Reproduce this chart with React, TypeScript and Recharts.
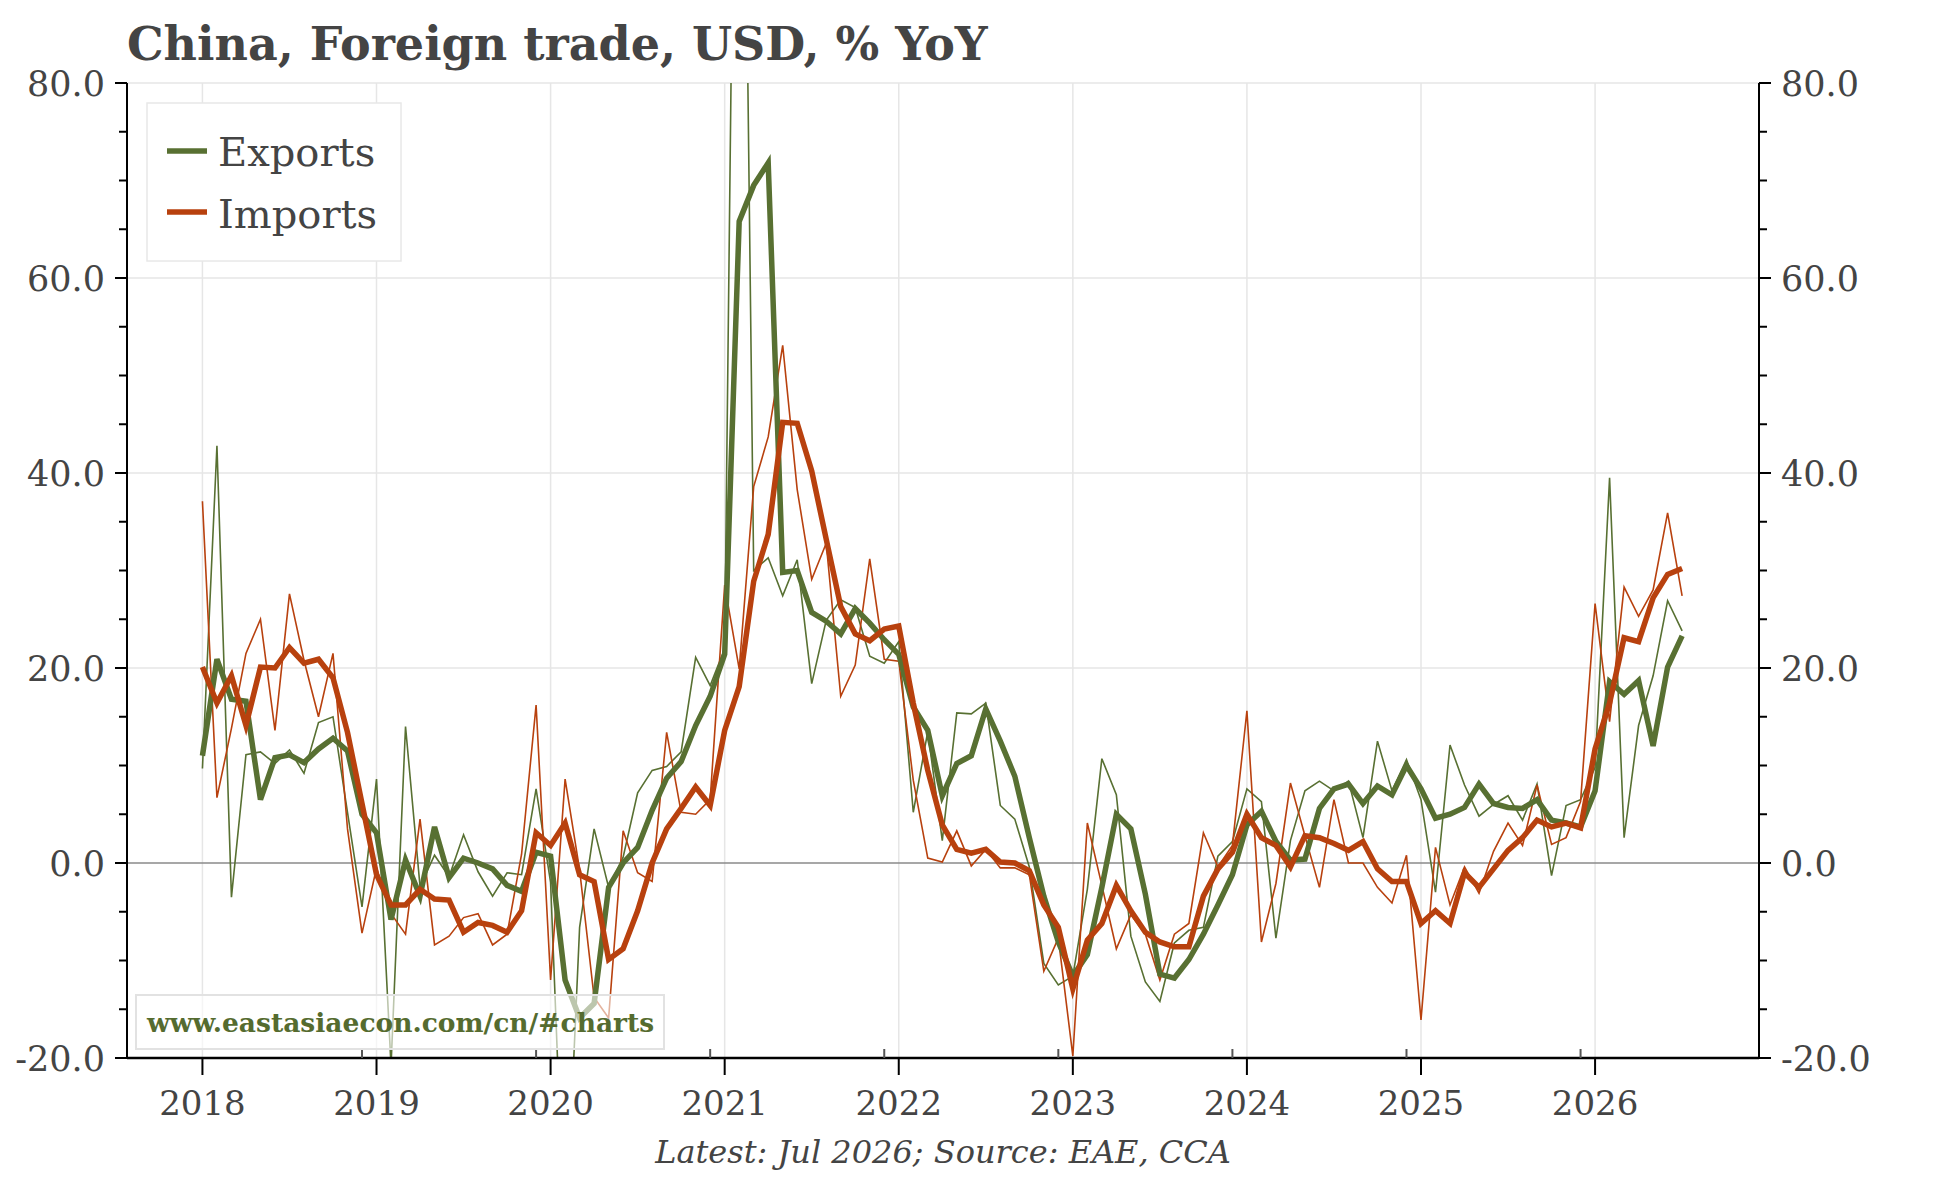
import { CartesianGrid, Line, LineChart, ReferenceLine, XAxis, YAxis } from "recharts";

// Monthly YoY %, Jan 2018 .. Jul 2026 (thin lines) and their 3-month averages (thick lines)
const exportsYoY = [
  9.7, 42.8, -3.5, 11.1, 11.4, 10.2, 11.6, 9.2, 14.4, 15.0, 5.2, -4.5,
  8.6, -20.8, 14.0, -2.4, 0.8, -1.4, 2.9, -0.9, -3.4, -1.0, -1.2, 7.6,
  -2.0, -40.0, -6.6, 3.5, -2.5, 0.6, 7.2, 9.5, 9.9, 11.4, 21.1, 18.2,
  22.0, 154.7, 30.0, 31.3, 27.4, 31.1, 18.4, 24.9, 27.0, 26.2, 21.2, 20.5,
  22.7, 5.2, 13.5, 2.3, 15.4, 15.3, 16.4, 5.9, 4.5, -0.4, -10.3, -12.5,
  -11.6, -2.7, 10.7, 7.0, -7.5, -12.2, -14.2, -8.2, -6.9, -6.6, 0.7, 2.2,
  7.6, 6.3, -7.7, 2.3, 7.4, 8.4, 7.4, 8.4, 2.6, 12.5, 7.4, 10.6,
  6.5, -3.0, 12.1, 8.0, 4.8, 6.0, 6.9, 4.4, 8.1, -1.3, 5.9, 6.5,
  9.8, 39.5, 2.6, 14.1, 19.2, 26.9, 23.8,
];
const exports3m = [
  11.0, 20.9, 16.8, 16.6, 6.5, 10.8, 11.1, 10.3, 11.7, 12.8, 11.5, 5.0,
  3.1, -5.8, 0.3, -3.4, 3.7, -1.5, 0.5, 0.0, -0.6, -2.3, -2.9, 1.1,
  0.7, -12.0, -15.9, -14.4, -2.5, 0.0, 1.6, 5.4, 8.7, 10.4, 14.1, 17.1,
  21.4, 65.8, 69.5, 71.8, 29.8, 30.0, 25.7, 24.8, 23.5, 26.1, 24.6, 22.9,
  21.4, 16.0, 13.6, 6.9, 10.2, 11.0, 15.8, 12.5, 8.9, 2.6, -3.4, -8.1,
  -11.6, -9.4, -2.5, 5.0, 3.5, -3.2, -11.4, -11.8, -9.9, -7.3, -4.3, -1.2,
  3.9, 5.3, 2.2, 0.3, 0.4, 5.6, 7.6, 8.1, 6.1, 7.9, 7.0, 10.0,
  7.6, 4.6, 5.0, 5.7, 8.1, 6.1, 5.7, 5.6, 6.5, 4.4, 4.1, 3.7,
  7.4, 18.6, 17.3, 18.7, 12.0, 20.1, 23.3,
];
const importsYoY = [
  37.1, 6.7, 13.8, 21.5, 25.0, 13.6, 27.6, 20.8, 15.0, 21.5, 3.5, -7.2,
  -0.5, -5.2, -7.3, 4.5, -8.4, -7.5, -5.6, -5.2, -8.4, -7.3, 0.9, 16.2,
  -12.0, 8.6, -0.7, -13.8, -15.9, 3.3, -1.0, -1.9, 13.4, 5.2, 5.0, 6.5,
  28.5, 19.9, 38.6, 43.7, 53.1, 38.3, 29.1, 32.8, 17.1, 20.3, 31.2, 20.9,
  20.7, 8.5, 0.5, 0.1, 3.3, -0.3, 1.4, -0.5, -0.5, -1.2, -11.1, -7.7,
  -19.8, 4.1, -2.3, -8.8, -5.3, -7.3, -12.0, -7.3, -6.2, 3.1, -0.4, 1.8,
  15.6, -8.1, -2.1, 8.2, 2.8, -2.5, 6.5, 0.0, 0.0, -2.5, -4.1, 0.8,
  -16.1, 1.6, -4.3, -0.4, -3.1, 1.2, 4.1, 1.8, 8.0, 1.9, 2.6, 6.3,
  26.6, 14.5, 28.3, 25.3, 28.0, 35.9, 27.4,
];
const imports3m = [
  20.1, 16.4, 19.2, 14.1, 20.1, 20.0, 22.1, 20.5, 20.9, 19.0, 13.4, 6.1,
  -1.2, -4.3, -4.3, -2.7, -3.7, -3.8, -7.1, -6.1, -6.4, -7.1, -4.9, 3.1,
  1.8, 4.1, -1.2, -1.9, -9.9, -8.8, -4.9, 0.0, 3.5, 5.6, 7.8, 5.9,
  13.6, 18.1, 28.9, 33.7, 45.2, 45.1, 40.2, 33.2, 26.3, 23.5, 22.8, 24.0,
  24.3, 16.4, 9.5, 3.9, 1.4, 1.0, 1.4, 0.1, 0.0, -0.8, -4.3, -6.6,
  -12.9, -7.9, -6.2, -2.3, -4.9, -7.1, -8.1, -8.6, -8.6, -3.4, -0.6, 1.1,
  5.0, 2.6, 1.8, -0.4, 2.8, 2.6, 2.0, 1.3, 2.2, -0.6, -1.9, -1.9,
  -6.2, -4.9, -6.2, -1.0, -2.5, -0.6, 1.3, 2.6, 4.4, 3.7, 4.1, 3.6,
  11.7, 16.4, 23.1, 22.7, 27.2, 29.6, 30.2,
];

const firstYear = 2018;
const yearLabels = [2018, 2019, 2020, 2021, 2022, 2023, 2024, 2025, 2026];
const yMajor = [-20, 0, 20, 40, 60, 80];
const yTicks = [-20, -15, -10, -5, 0, 5, 10, 15, 20, 25, 30, 35, 40, 45, 50, 55, 60, 65, 70, 75, 80];

// x value = months since Jan 2018
const yearPos = yearLabels.map((y) => (y - firstYear) * 12);
const decPos = yearLabels.slice(0, -1).map((y) => (y - firstYear) * 12 + 11);
const xTicks = [...yearPos, ...decPos].sort((a, b) => a - b);

const data = exportsYoY.map((v, i) => ({
  m: i,
  ex: v,
  ex3: exports3m[i],
  im: importsYoY[i],
  im3: imports3m[i],
}));

const GREEN = "#587032";
const ORANGE = "#b8410e";
const TEXT = "#444444";
const FONT = "'DejaVu Serif', serif";

function XTick(props: any) {
  const { x, y, payload } = props;
  const m = payload.value;
  if (m % 12 === 0) {
    return (
      <g>
        <line x1={x} x2={x} y1={y} y2={y + 17} stroke="#000" strokeWidth={2} />
        <text x={x} y={y + 57} textAnchor="middle" fontSize={34} fontFamily={FONT} fill={TEXT}>
          {firstYear + m / 12}
        </text>
      </g>
    );
  }
  return <line x1={x} x2={x} y1={y} y2={y - 9} stroke="#555" strokeWidth={2} />;
}

function YTick(props: any) {
  const { x, y, payload, side } = props;
  const v = payload.value;
  const major = yMajor.includes(v);
  const dir = side === "left" ? -1 : 1;
  const len = major ? 12 : 8;
  return (
    <g>
      <line x1={x} x2={x + dir * len} y1={y} y2={y} stroke="#000" strokeWidth={2} />
      {major && (
        <text
          x={x + dir * 22}
          y={y + 13}
          textAnchor={side === "left" ? "end" : "start"}
          fontSize={35}
          fontFamily={FONT}
          fill={TEXT}
        >
          {v.toFixed(1)}
        </text>
      )}
    </g>
  );
}

export default function App() {
  return (
    <div style={{ position: "relative", width: 1944, height: 1178, background: "#fff" }}>
      <style>{`body{margin:0}`}</style>
      <LineChart width={1944} height={1178} data={data} margin={{ top: 83, right: 0, bottom: 60, left: 0 }}>
        <CartesianGrid
          stroke="#e6e6e6"
          strokeWidth={1.5}
          horizontalValues={[20, 40, 60, 80]}
          verticalValues={yearPos}
        />
        <XAxis
          dataKey="m"
          type="number"
          domain={[-5.2, 107.3]}
          allowDataOverflow
          ticks={xTicks}
          interval={0}
          height={60}
          tickSize={0}
          tickMargin={0}
          tickLine={false}
          axisLine={{ stroke: "#000", strokeWidth: 2.5 }}
          tick={(p: any) => <XTick {...p} />}
        />
        <YAxis
          type="number"
          domain={[-20, 80]}
          allowDataOverflow
          ticks={yTicks}
          interval={0}
          width={127}
          tickSize={0}
          tickMargin={0}
          tickLine={false}
          axisLine={{ stroke: "#000", strokeWidth: 2 }}
          tick={(p: any) => <YTick {...p} side="left" />}
        />
        <YAxis
          yAxisId="right"
          orientation="right"
          type="number"
          domain={[-20, 80]}
          allowDataOverflow
          ticks={yTicks}
          interval={0}
          width={185}
          tickSize={0}
          tickMargin={0}
          tickLine={false}
          axisLine={{ stroke: "#000", strokeWidth: 2 }}
          tick={(p: any) => <YTick {...p} side="right" />}
        />
        <ReferenceLine y={0} stroke="#8a8a8a" strokeWidth={1.5} />
        <Line dataKey="ex" stroke={GREEN} strokeWidth={1.6} dot={false} isAnimationActive={false} />
        <Line dataKey="im" stroke={ORANGE} strokeWidth={1.6} dot={false} isAnimationActive={false} />
        <Line dataKey="ex3" stroke={GREEN} strokeWidth={5.5} dot={false} isAnimationActive={false} />
        <Line dataKey="im3" stroke={ORANGE} strokeWidth={5.5} dot={false} isAnimationActive={false} />
      </LineChart>

      <svg
        width={1944}
        height={1178}
        style={{ position: "absolute", left: 0, top: 0, pointerEvents: "none" }}
        fontFamily={FONT}
      >
        <text x={127} y={60} fontSize={46} fontWeight="bold" fill={TEXT}>
          China, Foreign trade, USD, % YoY
        </text>

        <rect x={147} y={103} width={254} height={158} fill="#fff" stroke="#e8e8e8" strokeWidth={1.5} />
        <line x1={167} x2={207} y1={151} y2={151} stroke={GREEN} strokeWidth={5.5} />
        <text x={218} y={166} fontSize={40} fill={TEXT}>Exports</text>
        <line x1={167} x2={207} y1={212} y2={212} stroke={ORANGE} strokeWidth={5.5} />
        <text x={218} y={228} fontSize={40} fill={TEXT}>Imports</text>

        <rect x={136} y={995} width={528} height={54} fill="#fff" fillOpacity={0.6} stroke="#e2e2e2" strokeWidth={2} />
        <text x={147} y={1032} fontSize={26.5} fontWeight="bold" fill="#556b2f">
          www.eastasiaecon.com/cn/#charts
        </text>

        <text x={943} y={1163} textAnchor="middle" fontSize={32} fontStyle="italic" fill={TEXT}>
          Latest: Jul 2026; Source: EAE, CCA
        </text>
      </svg>
    </div>
  );
}
